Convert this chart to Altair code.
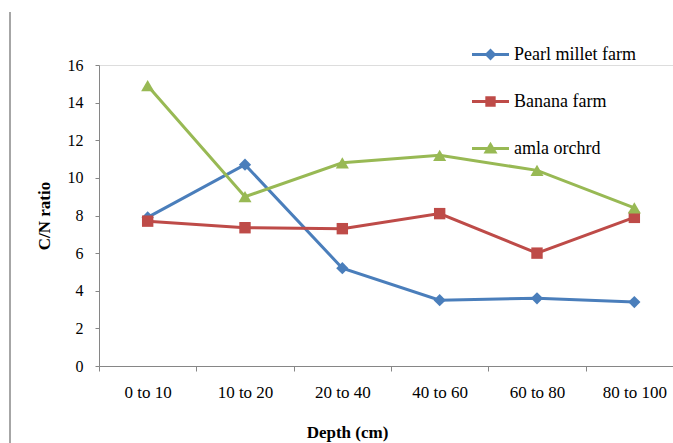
import altair as alt
import pandas as pd

depths = ["0 to 10", "10 to 20", "20 to 40", "40 to 60", "60 to 80", "80 to 100"]
pearl_millet = [7.9, 10.7, 5.2, 3.5, 3.6, 3.4]
banana = [7.7, 7.35, 7.3, 8.1, 6.0, 7.9]
amla = [14.9, 9.0, 10.8, 11.2, 10.4, 8.4]
series_names = ["Pearl millet farm", "Banana farm", "amla orchrd"]
series_colors = ["#4A7EBB", "#BE4B48", "#98B954"]
series_shapes = ["diamond", "square", "triangle-up"]
series_sizes = [150, 130, 170]

rows = []
for name, vals in zip(series_names, [pearl_millet, banana, amla]):
    for i, (d, v) in enumerate(zip(depths, vals)):
        rows.append({"depth": d, "idx": i, "value": v, "series": name})
df = pd.DataFrame(rows)

FONT = "Liberation Serif"
AX = "#868686"

legend_paths = [
    "M-1,-0.08H1V0.08H-1ZM0,-0.32L0.32,0L0,0.32L-0.32,0Z",
    "M-1,-0.08H1V0.08H-1ZM-0.28,-0.28H0.28V0.28H-0.28Z",
    "M-1,-0.08H1V0.08H-1ZM0,-0.36L0.38,0.27H-0.38Z",
]


def pick(values):
    return ("datum.value == '%s' ? '%s' : (datum.value == '%s' ? '%s' : '%s')"
            % (series_names[0], values[0], series_names[1], values[1], values[2]))


legend = alt.Legend(
    title=None,
    orient="none",
    legendX=373,
    legendY=-29,
    direction="vertical",
    symbolSize=1369,
    symbolStrokeWidth=0,
    symbolType={"expr": pick(legend_paths)},
    symbolFillColor={"expr": pick(series_colors)},
    symbolStrokeColor={"expr": pick(series_colors)},
    symbolOpacity=1,
    labelFont=FONT,
    labelFontSize=18,
    labelColor="#000000",
    labelOffset=5,
    rowPadding=19,
    padding=0,
)

x_enc = alt.X(
    "depth:N",
    sort=depths,
    scale=alt.Scale(domain=depths, range=[0, 584], paddingInner=0, paddingOuter=0),
    axis=alt.Axis(
        title="Depth (cm)",
        labelAngle=0,
        tickBand="extent",
        labelFont=FONT,
        labelFontSize=17,
        labelColor="#000000",
        labelPadding=13,
        tickSize=5,
        tickColor=AX,
        domainColor=AX,
        titleFont=FONT,
        titleFontSize=17,
        titleFontWeight="bold",
        titleColor="#000000",
        titleX=248,
        titleY=66,
        titleBaseline="middle",
        grid=False,
    ),
)

y_enc = alt.Y(
    "value:Q",
    scale=alt.Scale(domain=[0, 16], nice=False),
    axis=alt.Axis(
        title="C/N ratio",
        values=[0, 2, 4, 6, 8, 10, 12, 14, 16],
        labelFont=FONT,
        labelFontSize=16,
        labelColor="#000000",
        labelPadding=12,
        tickSize=4,
        tickColor=AX,
        domainColor=AX,
        titleFont=FONT,
        titleFontSize=17,
        titleFontWeight="bold",
        titleColor="#000000",
        titlePadding=14,
        grid=False,
    ),
)

color_scale = alt.Scale(domain=series_names, range=series_colors)

lines = alt.Chart(df).mark_line(strokeWidth=3).encode(
    x=x_enc,
    y=y_enc,
    color=alt.Color("series:N", scale=color_scale, legend=legend),
    order=alt.Order("idx:Q"),
)

point_layers = []
for name, col, shp, sz in zip(series_names, series_colors, series_shapes, series_sizes):
    point_layers.append(
        alt.Chart(df)
        .transform_filter(alt.datum.series == name)
        .mark_point(filled=True, opacity=1, shape=shp, size=sz, color=col)
        .encode(x=x_enc, y=y_enc)
    )

frame = alt.Chart(pd.DataFrame({"a": [0]})).mark_rule(color="#A6A6A6", strokeWidth=2).encode(
    x=alt.value(-89), y=alt.value(-53), y2=alt.value(378)
)

chart = alt.layer(frame, lines, *point_layers).properties(
    width=574,
    height=301,
    padding={"left": 99, "top": 65, "right": 0, "bottom": 77},
    autosize=alt.AutoSizeParams(type="none"),
).configure_view(stroke=None).configure(background="#FFFFFF")

chart.save("out.html", embed_options={"renderer": "svg", "actions": False})
